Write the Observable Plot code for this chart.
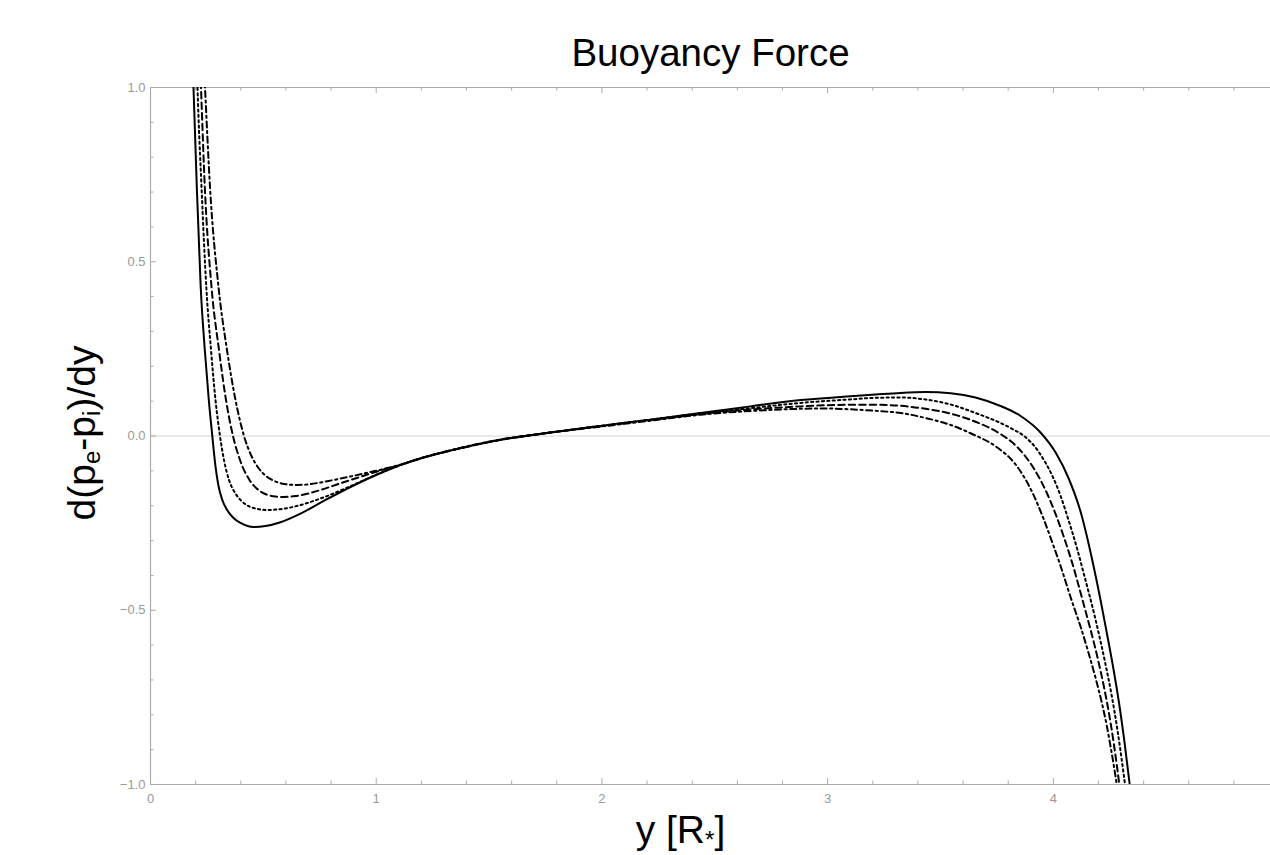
<!DOCTYPE html>
<html><head><meta charset="utf-8">
<script src="https://cdn.jsdelivr.net/npm/d3@7"></script>
<script src="https://cdn.jsdelivr.net/npm/@observablehq/plot@0.6"></script>
<style>body{margin:0;background:#fff;} svg{display:block}</style>
</head><body><div id="chart"></div>
<script>
// ---- data (x = y [R*], y = d(pe-pi)/dy) ----
const solid = [
  [0.186,1.077],[0.1905,1.0],[0.2051,0.7145],[0.2224,0.4275],[0.2406,0.2468],[0.2583,0.1033],[0.2738,0.0],
  [0.2871,-0.0832],[0.3004,-0.1406],[0.3181,-0.1836],[0.3394,-0.2123],[0.3677,-0.2353],[0.3988,-0.2496],
  [0.4298,-0.2582],[0.4564,-0.2611],[0.5095,-0.2583],[0.576,-0.2474],[0.6646,-0.2228],[0.7754,-0.1836],
  [0.8861,-0.1463],[0.9969,-0.1127],[1.1077,-0.0832],[1.2184,-0.0603],[1.3292,-0.0416],[1.551,-0.011],
  [1.772,0.010],[1.994,0.029],[2.215,0.047],[2.437,0.066],[2.658,0.085],[2.880,0.103],[3.101,0.1142],
  [3.212,0.1191],[3.323,0.1237],[3.434,0.1260],[3.545,0.1225],[3.655,0.1105],[3.766,0.0861],[3.855,0.0574],
  [3.943,0.0100],[4.010,-0.0474],[4.067,-0.1205],[4.121,-0.2181],[4.178,-0.3730],[4.209,-0.4706],
  [4.236,-0.5624],[4.267,-0.6714],[4.293,-0.7747],[4.315,-0.8780],[4.338,-0.9986],[4.360,-1.1306]
];
const dotted = [
  [0.2047,1.077],[0.2082,1.0],[0.2260,0.7145],[0.2472,0.4275],[0.2681,0.2468],[0.2880,0.1033],[0.3079,0.0],
  [0.3256,-0.0689],[0.3478,-0.1263],[0.3722,-0.1607],[0.3988,-0.1836],[0.4253,-0.1980],[0.4564,-0.2066],
  [0.4874,-0.2109],[0.5171,-0.2123],[0.598,-0.208],[0.665,-0.198],[0.775,-0.174],[0.886,-0.144],[0.997,-0.112],
  [1.108,-0.083],[1.218,-0.060],[1.329,-0.042],[1.551,-0.011],[1.772,0.010],[1.994,0.029],[2.215,0.047],
  [2.437,0.065],[2.658,0.080],[2.880,0.095],[3.101,0.105],[3.212,0.1096],[3.323,0.1105],[3.434,0.1047],
  [3.545,0.0904],[3.655,0.066],[3.766,0.0373],[3.819,0.020],[3.872,-0.001],[3.917,-0.030],[3.961,-0.072],
  [3.996,-0.115],[4.032,-0.172],[4.067,-0.241],[4.103,-0.318],[4.129,-0.381],[4.183,-0.5165],[4.227,-0.6428],
  [4.258,-0.7432],[4.284,-0.8436],[4.306,-0.9440],[4.329,-1.0588],[4.351,-1.1879]
];
const dashed = [
  [0.2193,1.077],[0.2237,1.0],[0.2406,0.7145],[0.2703,0.4275],[0.3035,0.2468],[0.3345,0.1033],[0.3655,0.0],
  [0.3965,-0.0689],[0.4386,-0.1263],[0.4785,-0.1549],[0.5140,-0.1679],[0.5539,-0.1736],[0.5906,-0.1750],
  [0.6424,-0.1722],[0.7000,-0.1650],[0.7532,-0.1549],[0.8197,-0.1406],[0.8861,-0.1263],[0.9969,-0.1033],
  [1.1077,-0.0826],[1.218,-0.060],[1.329,-0.042],[1.551,-0.011],[1.772,0.010],[1.994,0.028],[2.215,0.046],
  [2.437,0.063],[2.658,0.076],[2.880,0.085],[3.101,0.0896],[3.212,0.0896],[3.323,0.0867],[3.434,0.078],
  [3.545,0.064],[3.655,0.041],[3.766,0.0057],[3.819,-0.019],[3.872,-0.055],[3.921,-0.101],[3.965,-0.155],
  [4.010,-0.224],[4.045,-0.287],[4.081,-0.359],[4.134,-0.482],[4.196,-0.637],[4.227,-0.729],[4.253,-0.8207],
  [4.284,-0.9584],[4.306,-1.0732],[4.329,-1.2023]
];
const dotDashed = [
  [0.2357,1.077],[0.2415,1.0],[0.2636,0.7145],[0.3013,0.4275],[0.3389,0.2468],[0.3766,0.1033],[0.4143,0.0],
  [0.4453,-0.0545],[0.4785,-0.0918],[0.5117,-0.1148],[0.5494,-0.1291],[0.5937,-0.1377],[0.6500,-0.1406],
  [0.7000,-0.1386],[0.7532,-0.1334],[0.8108,-0.1263],[0.8861,-0.1162],[0.9747,-0.1033],[1.0545,-0.0912],
  [1.1077,-0.0821],[1.218,-0.060],[1.329,-0.041],[1.551,-0.010],[1.772,0.010],[1.994,0.027],[2.215,0.044],
  [2.437,0.061],[2.658,0.0717],[2.880,0.0780],[2.991,0.0789],[3.101,0.0766],[3.212,0.0723],[3.323,0.0660],
  [3.434,0.0516],[3.545,0.0316],[3.655,0.0014],[3.722,-0.0201],[3.766,-0.0402],[3.810,-0.0646],[3.862,-0.1090],
  [3.908,-0.1635],[3.957,-0.2381],[3.996,-0.3070],[4.032,-0.3730],[4.076,-0.4620],[4.121,-0.5481],[4.156,-0.6227],
  [4.187,-0.6944],[4.214,-0.7633],[4.236,-0.8293],[4.253,-0.8895],[4.271,-0.9584],[4.289,-1.0387],[4.306,-1.1306]
];
const xMajor = [0, 1, 2, 3, 4];
const xMinor = [0.2,0.4,0.6,0.8,1.2,1.4,1.6,1.8,2.2,2.4,2.6,2.8,3.2,3.4,3.6,3.8,4.2,4.4,4.6,4.8];
const yMajor = [-1, -0.5, 0, 0.5, 1];
const yMinor = [-0.9,-0.8,-0.7,-0.6,-0.4,-0.3,-0.2,-0.1,0.1,0.2,0.3,0.4,0.6,0.7,0.8,0.9];
const titleText = "Buoyancy Force";
const yLabelText = "d(pe-pi)/dy";
const xLabelText = "y [R*]";

// tick lengths expressed in data units (x: 225.7 px/unit, y: 348.5 px/unit)
const tkYMaj = 6/348.5, tkYMin = 3.5/348.5, tkXMaj = 6/225.7, tkXMin = 3.5/225.7;
const axisCol = "#ababab";
const lineStyle = {x: d => d[0], y: d => d[1], curve: "monotone-x", clip: true, stroke: "#000", strokeWidth: 2};

const chart = Plot.plot({
  width: 1270, height: 855,
  marginLeft: 150, marginRight: 0, marginTop: 87, marginBottom: 71,
  x: {domain: [0, 4.962], label: null},
  y: {domain: [-1, 1], label: null},
  style: {fontFamily: "'Liberation Sans', Arial, sans-serif", background: "#fff", overflow: "visible"},
  marks: [
    Plot.ruleY([0], {stroke: "#e2e2e2", strokeWidth: 1.3}),
    Plot.ruleY([1], {stroke: axisCol}),
    Plot.ruleY([-1], {stroke: axisCol, strokeWidth: 1.2}),
    Plot.ruleX([0], {stroke: axisCol, strokeWidth: 1.2}),
    // bottom ticks (inward)
    Plot.ruleX(xMajor, {y1: -1, y2: -1 + tkYMaj, stroke: axisCol}),
    Plot.ruleX(xMinor, {y1: -1, y2: -1 + tkYMin, stroke: axisCol}),
    // top ticks (inward)
    Plot.ruleX(xMajor, {y1: 1, y2: 1 - tkYMaj, stroke: axisCol}),
    Plot.ruleX(xMinor, {y1: 1, y2: 1 - tkYMin, stroke: axisCol}),
    // left ticks (inward)
    Plot.ruleY(yMajor, {x1: 0, x2: tkXMaj, stroke: axisCol}),
    Plot.ruleY(yMinor, {x1: 0, x2: tkXMin, stroke: axisCol}),
    Plot.axisX({ticks: xMajor, tickSize: 0, tickPadding: 9, fontSize: 13, fill: "#999", label: null, tickFormat: d => String(d)}),
    Plot.axisY({ticks: yMajor, tickSize: 0, tickPadding: 5, fontSize: 13, fill: "#999", label: null, tickFormat: d3.format(".1f")}),
    Plot.line(dotDashed, {...lineStyle, strokeDasharray: "6,3.5,2.2,3.5"}),
    Plot.line(dashed, {...lineStyle, strokeDasharray: "6.5,4"}),
    Plot.line(dotted, {...lineStyle, strokeDasharray: "2.2,3.2"}),
    Plot.line(solid, {...lineStyle}),
    Plot.text([titleText], {frameAnchor: "top", lineAnchor: "top", dy: -49, fontSize: 38.5, fill: "#000", className: "ttl"}),
    Plot.text([yLabelText], {frameAnchor: "left", textAnchor: "middle", lineAnchor: "middle", dx: -68, dy: -3, rotate: -90, fontSize: 39, fill: "#000", className: "ylab"}),
    Plot.text([xLabelText], {frameAnchor: "bottom", textAnchor: "middle", lineAnchor: "bottom", dx: -30, dy: 58, fontSize: 39, fill: "#000", className: "xlab"})
  ]
});
document.getElementById("chart").appendChild(chart);

// rich text (subscripts) for the axis labels
function rich(cls, parts) {
  const t = chart.querySelector("g." + cls + " text");
  if (!t) return;
  while (t.firstChild) t.removeChild(t.firstChild);
  for (const [s, sub] of parts) {
    const ts = document.createElementNS("http://www.w3.org/2000/svg", "tspan");
    ts.textContent = s;
    if (sub) { ts.setAttribute("font-size", "0.62em"); ts.setAttribute("baseline-shift", "-22%"); }
    t.appendChild(ts);
  }
}
rich("ylab", [["d(p", false], ["e", true], ["-p", false], ["i", true], [")/dy", false]]);
rich("xlab", [["y [R", false], ["*", true], ["]", false]]);
</script>
</body></html>
